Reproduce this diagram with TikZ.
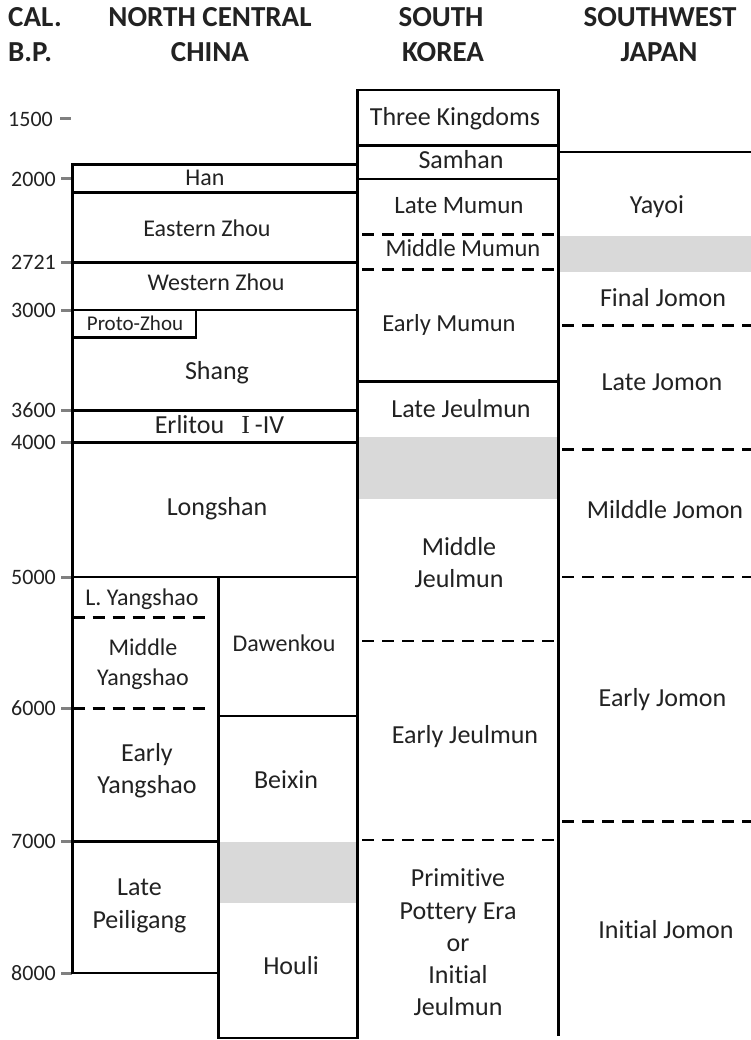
\documentclass[tikz,border=0pt]{standalone}
\usepackage{fontspec}
\setmainfont{Carlito}[Ligatures=NoCommon]
\newfontfamily\serifI{Liberation Serif}
\newcommand\fsz[2]{\fontsize{#1}{#2}\selectfont}
\definecolor{txt}{HTML}{222222}
\definecolor{band}{HTML}{D9D9D9}
\definecolor{tickc}{HTML}{808080}
\begin{document}
\begin{tikzpicture}[x=1pt,y=-1pt,
  lbl/.style={anchor=base, inner sep=0pt, text=txt, align=center, font={\fsz{26}{32.5}}},
  lblm/.style={lbl, font={\fsz{24}{30}}},
  head/.style={anchor=base, inner sep=0pt, text=txt, font={\fsz{29}{35}\bfseries}},
  axl/.style={anchor=east, inner sep=0pt, text=txt, font={\fsz{22}{26}}},
  tickm/.style={draw=tickc, line width=3pt},
  bline/.style={draw=black, line width=2.5pt, line cap=rect},
  dline/.style={draw=black, line width=2.8pt, dash pattern=on 12pt off 8pt},
  bandfill/.style={fill=band, draw=none}
]
\useasboundingbox[fill=white] (0,0) rectangle (751,1040);

% grey bands
\path[bandfill] (219.5,841.7) rectangle (356.3,902.7);
\path[bandfill] (358.8,437) rectangle (557.2,499.3);
\path[bandfill] (559.8,235.7) rectangle (751,271.7);

% axis ticks
\draw[tickm] (60,119) -- (71,119);
\foreach \yy in {179,262.5,310,410.5,442.5,577,708.3,841.7,973}
  \draw[tickm] (61,\yy) -- (72,\yy);

% North Central China
\draw[bline] (357.5,164.5) -- (72.7,164.5) -- (72.7,973) -- (218.3,973);
\foreach \yy in {192.5,262.5,310,410.5,442.5,577}
  \draw[bline] (72.7,\yy) -- (357.5,\yy);
\draw[bline] (72.7,337.7) -- (196,337.7) -- (196,310);
\draw[bline] (218.3,577) -- (218.3,1038) -- (357.5,1038);
\draw[bline] (218.3,716) -- (357.5,716);
\draw[bline] (72.7,841.7) -- (218.3,841.7);
\draw[dline] (72.7,617.7) -- (212,617.7);
\draw[dline] (72.7,708.3) -- (212,708.3);

% South Korea
\draw[bline] (357.5,1038) -- (357.5,90) -- (558.5,90) -- (558.5,1035);
\foreach \yy in {145.7,179,381.7}
  \draw[bline] (357.5,\yy) -- (558.5,\yy);
\foreach \yy in {234.3,269.3,641,840}
  \draw[dline] (362,\yy) -- (558.5,\yy);

% Southwest Japan
\draw[bline] (558.5,152) -- (751,152);
\foreach \yy in {325.5,449.5,577,821.7}
  \draw[dline] (562,\yy) -- (751,\yy);

% headers
\node[head, anchor=base west] (cal) at (8,27) {CAL.};
\node[head, anchor=base west] (bp) at (8,62) {B.P.};
\node[head] (nc) at (210,27) {NORTH CENTRAL};
\node[head] (ch) at (210,62) {CHINA};
\node[head] (sk1) at (441,27) {SOUTH};
\node[head] (sk2) at (443,62) {KOREA};
\node[head] (sw1) at (660,27) {SOUTHWEST};
\node[head] (sw2) at (659,62) {JAPAN};

% axis labels
\node[axl] (a1500) at (53,119) {1500};
\node[axl] (a2000) at (56,179) {2000};
\node[axl] (a2721) at (56,262.5) {2721};
\node[axl] (a3000) at (56,310) {3000};
\node[axl] (a3600) at (56,410.5) {3600};
\node[axl] (a4000) at (56,442.5) {4000};
\node[axl] (a5000) at (56,577) {5000};
\node[axl] (a6000) at (56,708.3) {6000};
\node[axl] (a7000) at (56,841.7) {7000};
\node[axl] (a8000) at (56,973) {8000};

% China labels (multi-line nodes: base = last line)
\node[lblm] (han) at (205,186) {Han};
\node[lblm] (ez) at (207,236.7) {Eastern Zhou};
\node[lblm] (wz) at (216,290.7) {Western Zhou};
\node[lbl, font={\fsz{21}{25}}] (pz) at (135,330) {Proto-Zhou};
\node[lbl] (shang) at (217,379.3) {Shang};
\node[lbl] (erl) at (219.5,433.3) {Erlitou\hspace{17pt}{\serifI I}\hspace{5pt}-IV};
\node[lbl] (long) at (217,515) {Longshan};
\node[lblm] (ly) at (142,605.7) {L. Yangshao};
\node[lblm] (my) at (143,685) {Middle\\Yangshao};
\node[lblm] (daw) at (284,651.7) {Dawenkou};
\node[lbl, font={\fsz{26}{31.7}}] (ey) at (147,793.3) {Early\\Yangshao};
\node[lbl] (bei) at (286,788.3) {Beixin};
\node[lbl, font={\fsz{26}{33}}] (lp) at (139.5,928.3) {Late\\Peiligang};
\node[lbl] (hou) at (291,974.3) {Houli};

% Korea labels
\node[lbl] (tk) at (455,125.7) {Three Kingdoms};
\node[lbl] (sam) at (461,168.3) {Samhan};
\node[lbl, font={\fsz{25}{30}}] (lm) at (459,213.3) {Late Mumun};
\node[lbl, font={\fsz{24.5}{30}}] (mm) at (463,256.7) {Middle Mumun};
\node[lbl, font={\fsz{24.5}{30}}] (em) at (449,331.7) {Early Mumun};
\node[lbl] (lj) at (461,417.3) {Late Jeulmun};
\node[lbl, font={\fsz{26}{32.7}}] (mj) at (459,587.7) {Middle\\Jeulmun};
\node[lbl] (ej) at (465,743.3) {Early Jeulmun};
\node[lbl, font={\fsz{26}{32.3}}] (pp) at (458,1015.9) {Primitive\\Pottery Era\\or\\Initial\\Jeulmun};

% Japan labels
\node[lbl] (yay) at (657,213.3) {Yayoi};
\node[lbl] (fj) at (663,306.7) {Final Jomon};
\node[lbl] (ljo) at (662,390) {Late Jomon};
\node[lbl] (mjo) at (665,518.3) {Milddle Jomon};
\node[lbl] (ejo) at (662.5,706.7) {Early Jomon};
\node[lbl] (ijo) at (666,938.3) {Initial Jomon};
\end{tikzpicture}
\end{document}
